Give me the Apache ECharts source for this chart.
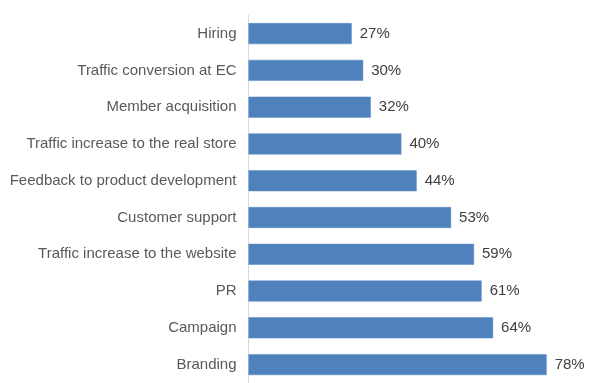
<!DOCTYPE html>
<html><head><meta charset="utf-8">
<script src="https://cdn.jsdelivr.net/npm/echarts@6/dist/echarts.min.js"></script>
<style>html,body{margin:0;padding:0;background:#fff}#c{width:600px;height:383px}</style>
</head><body><div id="c"></div>
<script>
var categories = ["Hiring","Traffic conversion at EC","Member acquisition","Traffic increase to the real store","Feedback to product development","Customer support","Traffic increase to the website","PR","Campaign","Branding"];
var values = [27,30,32,40,44,53,59,61,64,78];
var chart = echarts.init(document.getElementById('c'), null, {renderer:'canvas'});
chart.setOption({
  animation:false,
  grid:{left:248.5, top:15.2, height:370, width:344, containLabel:false},
  xAxis:{type:'value', min:0, max:90, show:false},
  yAxis:{type:'category', data:categories, inverse:true,
    axisLine:{show:true, lineStyle:{color:'#d9d9d9', width:1}},
    axisTick:{show:false},
    axisLabel:{color:'#595959', fontFamily:'Liberation Sans, Arial, sans-serif', fontSize:15, margin:12}
  },
  series:[{type:'bar', data:values, barCategoryGap:'43%',
    itemStyle:{color:'#4f81bd', borderColor:'#5b8ac4', borderWidth:0.5},
    label:{show:true, position:'right', distance:8, formatter:'{c}%', color:'#404040', fontFamily:'Liberation Sans, Arial, sans-serif', fontSize:15}
  }]
});
</script></body></html>
